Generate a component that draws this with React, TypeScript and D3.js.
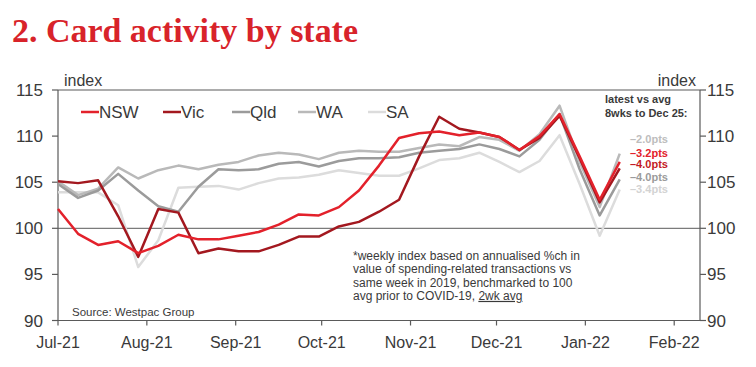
import React from "react";
import * as d3 from "d3";

const weeks = [
  "2021-07-01","2021-07-08","2021-07-15","2021-07-22","2021-07-29",
  "2021-08-05","2021-08-12","2021-08-19","2021-08-26","2021-09-02",
  "2021-09-09","2021-09-16","2021-09-23","2021-09-30","2021-10-07",
  "2021-10-14","2021-10-21","2021-10-28","2021-11-04","2021-11-11",
  "2021-11-18","2021-11-25","2021-12-02","2021-12-09","2021-12-16",
  "2021-12-23","2021-12-30","2022-01-06","2022-01-13",
];

const nsw = [102.1,99.4,98.2,98.6,97.3,98.1,99.3,98.8,98.8,99.2,99.6,100.4,101.5,101.4,102.3,104.1,106.8,109.8,110.3,110.5,110.1,110.4,109.9,108.5,110.0,112.4,107.8,103.1,107.2];
const vic = [105.1,104.9,105.2,101.3,96.9,102.1,101.7,97.3,97.8,97.5,97.5,98.2,99.1,99.1,100.2,100.7,101.8,103.1,107.8,112.1,110.8,110.4,109.9,108.5,109.8,112.2,107.6,102.8,106.5];
const qld = [104.8,103.3,104.1,105.9,104.1,102.4,101.8,104.5,106.4,106.3,106.4,107.0,107.2,106.7,107.3,107.6,107.6,107.7,108.2,108.4,108.6,109.1,108.6,107.8,109.6,112.4,106.4,101.4,105.3];
const wa = [105.1,103.6,104.3,106.6,105.4,106.3,106.8,106.4,106.9,107.2,107.9,108.2,108.0,107.5,108.2,108.4,108.3,108.3,108.7,109.1,108.9,109.9,109.6,108.4,110.2,113.3,107.2,102.3,108.1];
const sa = [103.9,103.9,103.9,102.5,95.8,98.7,104.4,104.5,104.6,104.2,104.9,105.4,105.5,105.8,106.3,106.0,105.7,105.7,106.5,107.4,107.6,108.2,107.2,106.1,107.3,110.1,104.8,99.2,104.2];

const seriesNames = ["NSW", "Vic", "Qld", "WA", "SA"];
const seriesColors = ["#e3212b", "#a3181f", "#9b9b9b", "#b9b9b9", "#dcdcdc"];
const seriesValues = [nsw, vic, qld, wa, sa];

const yTicks = [90, 95, 100, 105, 110, 115];
const xTickDates = ["2021-07-01","2021-08-01","2021-09-01","2021-10-01","2021-11-01","2021-12-01","2022-01-01","2022-02-01"];
const xTickLabels = ["Jul-21","Aug-21","Sep-21","Oct-21","Nov-21","Dec-21","Jan-22","Feb-22"];

const annoLabels = ["–2.0pts", "–3.2pts", "–4.0pts", "–4.0pts", "–3.4pts"];
const annoColors = ["#bdbdbd", "#e3212b", "#c41a24", "#9b9b9b", "#d3d3d3"];

const footnote = [
  "*weekly index based on annualised %ch in",
  "value of spending-related transactions vs",
  "same week in 2019, benchmarked to 100",
  "avg prior to COVID-19, ",
];

const W = 756, H = 367;
const L = 58, R = 700, T = 90, B = 320.5;
const parse = d3.timeParse("%Y-%m-%d");

export default function App() {
  const x = d3.scaleTime().domain([parse("2021-07-01")!, parse("2022-02-10")!]).range([L, R]);
  const y = d3.scaleLinear().domain([90, 115]).range([B, T]);
  const dates = weeks.map((d) => parse(d)!);
  const line = d3.line<number>().x((_, i) => x(dates[i])).y((v) => y(v));
  const axisCol = "#5a5a5a";
  const txt = "#3a3a3a";
  const font = "'Liberation Sans', Arial, sans-serif";
  const drawOrder = [4, 3, 2, 1, 0];
  const legendX = [81, 163, 232, 298, 368];
  const annoY = [143, 156.5, 168, 181, 193];

  return (
    <svg width={W} height={H} style={{ position: "absolute", left: 0, top: 0, background: "#fff" }} fontFamily={font}>
      <text x={12} y={42} fill="#d8232a" fontFamily="'Liberation Serif', 'DejaVu Serif', serif" fontWeight="bold" fontSize={34} textLength={346} lengthAdjust="spacingAndGlyphs">
        2. Card activity by state
      </text>

      <line x1={L} x2={R} y1={T} y2={T} stroke={axisCol} strokeWidth={1.2} />
      <line x1={L} x2={L} y1={T} y2={B} stroke={axisCol} strokeWidth={1.2} />
      <line x1={R} x2={R} y1={T} y2={B} stroke={axisCol} strokeWidth={1.2} />
      <line x1={L} x2={R} y1={B} y2={B} stroke={axisCol} strokeWidth={1.2} />
      <line x1={L} x2={R} y1={y(100)} y2={y(100)} stroke={axisCol} strokeWidth={1} />

      {yTicks.map((t) => (
        <g key={t}>
          <line x1={L - 6} x2={L} y1={y(t)} y2={y(t)} stroke={axisCol} strokeWidth={1.2} />
          <line x1={R} x2={R + 6} y1={y(t)} y2={y(t)} stroke={axisCol} strokeWidth={1.2} />
          <text x={43} y={y(t) + 6} textAnchor="end" fontSize={17} fill={txt}>{t}</text>
          <text x={707} y={y(t) + 6} textAnchor="start" fontSize={17} fill={txt}>{t}</text>
        </g>
      ))}
      <text x={64} y={86} fontSize={16} fill={txt}>index</text>
      <text x={696} y={86} fontSize={16} fill={txt} textAnchor="end">index</text>

      {xTickDates.map((d, i) => {
        const xx = x(parse(d)!);
        return (
          <g key={d}>
            <line x1={xx} x2={xx} y1={B} y2={B + 5} stroke={axisCol} strokeWidth={1.2} />
            <text x={xx} y={348} textAnchor="middle" fontSize={16} fill={txt}>{xTickLabels[i]}</text>
          </g>
        );
      })}

      {drawOrder.map((si) => (
        <path key={si} d={line(seriesValues[si]) || ""} fill="none" stroke={seriesColors[si]} strokeWidth={2.5} strokeLinejoin="round" />
      ))}

      {seriesNames.map((n, i) => (
        <g key={n}>
          <line x1={legendX[i]} x2={legendX[i] + 18} y1={112} y2={112} stroke={seriesColors[i]} strokeWidth={2.5} />
          <text x={legendX[i] + 18} y={118} fontSize={17} fill={txt}>{n}</text>
        </g>
      ))}

      <text x={605} y={103} fontSize={11} fontWeight="bold" fill={txt}>latest vs avg</text>
      <text x={605} y={117} fontSize={11} fontWeight="bold" fill={txt}>8wks to Dec 25:</text>
      {annoLabels.map((a, i) => (
        <text key={i} x={630} y={annoY[i]} fontSize={11} fontWeight="bold" fill={annoColors[i]}>{a}</text>
      ))}

      {footnote.map((f, i) => (
        <text key={i} x={353} y={260 + i * 13.3} fontSize={12} fill={txt}>
          {f}
          {i === 3 ? <tspan textDecoration="underline">2wk avg</tspan> : null}
        </text>
      ))}

      <text x={72} y={316} fontSize={11.5} fill={txt}>Source: Westpac Group</text>
    </svg>
  );
}
